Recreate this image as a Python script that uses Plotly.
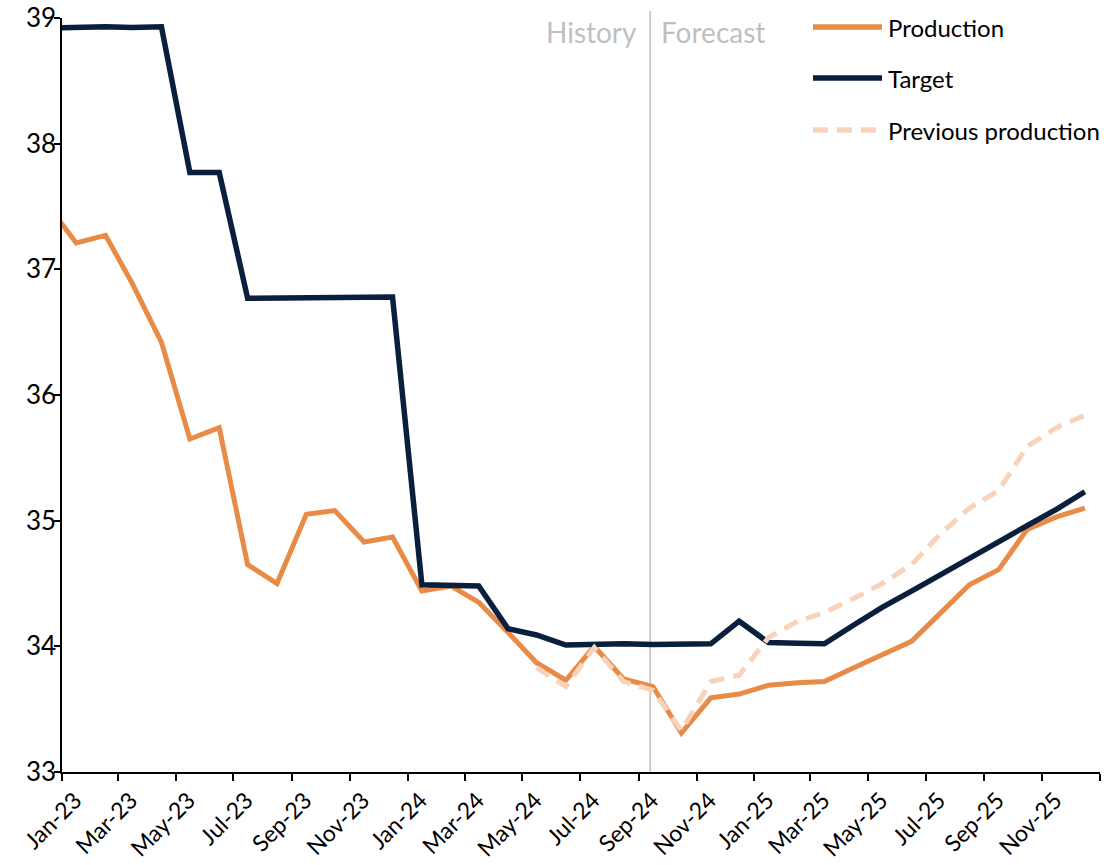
import plotly.graph_objects as go
import pandas as pd

# Monthly points (plotted mid-month), Dec-22 .. Dec-25
months = pd.date_range("2022-12-01", periods=37, freq="MS") + pd.Timedelta(days=15)

production = [37.52, 37.21, 37.27, 36.89, 36.42, 35.65, 35.74, 34.65, 34.50, 35.05, 35.08, 34.83, 34.87,
              34.44, 34.48, 34.35, 34.11, 33.87, 33.73, 34.00, 33.74, 33.68, 33.31, 33.59, 33.62,
              33.69, 33.71, 33.72, 33.83, 33.93, 34.04, 34.26, 34.49, 34.61, 34.93, 35.03, 35.10]

target = [38.92, 38.93, 38.93, 38.925, 38.93, 37.77, 37.77, 36.77, 36.77, 36.775, 36.78, 36.78, 36.78,
          34.49, 34.49, 34.48, 34.14, 34.09, 34.01, 34.02, 34.02, 34.015, 34.02, 34.02, 34.20,
          34.03, 34.025, 34.02, 34.17, 34.31, 34.44, 34.57, 34.70, 34.83, 34.96, 35.09, 35.23]

# Previous production forecast, May-24 .. Dec-25
prev_start = 17
previous_production = [33.83, 33.68, 33.99, 33.72, 33.65, 33.33, 33.72, 33.77,
                       34.07, 34.20, 34.27, 34.38, 34.50, 34.65, 34.89, 35.10, 35.24, 35.59, 35.74, 35.84]

tick_dates = pd.date_range("2023-01-01", "2026-01-01", freq="2MS")
tick_labels = [d.strftime("%b-%y") for d in tick_dates[:-1]] + [""]

split_date = "2024-09-13"

ORANGE = "#E88B47"
NAVY = "#0A1E3D"
PEACH = "#F8D3BA"
GREY = "#BFBFBF"
FONT = "Lato"

fig = go.Figure()
fig.add_trace(go.Scatter(x=months, y=production, mode="lines", name="Production",
                         line=dict(color=ORANGE, width=5), showlegend=False))
fig.add_trace(go.Scatter(x=months, y=target, mode="lines", name="Target",
                         line=dict(color=NAVY, width=5.5), showlegend=False))
fig.add_trace(go.Scatter(x=months[prev_start:], y=previous_production, mode="lines",
                         name="Previous production",
                         line=dict(color=PEACH, width=5, dash="15px,9px"), showlegend=False))

# Figure fills the window (body margin removed in post_script)
W, H = 1104, 865
L, R, T, B = 62, 4, 18, 865 - 772
pw, ph = W - L - R, H - T - B
def px(xp):
    return (xp - L) / pw
def py(yp):
    return 1 - (yp - T) / ph

# History / Forecast divider
fig.add_shape(type="line", x0=split_date, x1=split_date, xref="x", yref="paper",
              y0=0, y1=py(11), line=dict(color=GREY, width=1.5), layer="below")
fig.add_annotation(x=split_date, xref="x", y=py(32), yref="paper", text="History",
                   showarrow=False, xanchor="right", yanchor="middle", xshift=-11,
                   font=dict(family=FONT, size=28, color=GREY))
fig.add_annotation(x=split_date, xref="x", y=py(32), yref="paper", text="Forecast",
                   showarrow=False, xanchor="left", yanchor="middle", xshift=9,
                   font=dict(family=FONT, size=28, color=GREY))

# Custom legend (long line samples as in reference)
legend_items = [("Production", ORANGE, "solid", 27), ("Target", NAVY, "solid", 78),
                ("Previous production", PEACH, "15px,9px", 130)]
for name, col, dash, ypix in legend_items:
    fig.add_shape(type="line", xref="paper", yref="paper", x0=px(813), x1=px(882),
                  y0=py(ypix), y1=py(ypix), line=dict(color=col, width=5.5, dash=dash))
    fig.add_annotation(xref="paper", yref="paper", x=px(886), y=py(ypix), text=name,
                       showarrow=False, xanchor="left", yanchor="middle",
                       font=dict(family=FONT, size=24, color="black"))

fig.update_layout(
    width=W, height=H,
    margin=dict(l=L, r=R, t=T, b=B, autoexpand=False),
    plot_bgcolor="white", paper_bgcolor="white",
    font=dict(family=FONT, size=22, color="black"),
    showlegend=False,
)
fig.update_xaxes(type="date", range=["2023-01-01", "2026-01-01"],
                 tickmode="array", tickvals=tick_dates, ticktext=tick_labels,
                 tickangle=-45, ticks="outside", ticklen=7, tickwidth=1.5, tickcolor="black",
                 showline=True, linecolor="black", linewidth=1.5, showgrid=False, zeroline=False,
                 tickfont=dict(family=FONT, size=23, color="black"), automargin=False,
                 ticklabelshift=13, ticklabelstandoff=-3, ticklabeloverflow="allow")
fig.update_yaxes(range=[33, 39], dtick=1, ticks="outside", ticklen=6, tickwidth=1.5,
                 tickcolor="black", showline=True, linecolor="black", linewidth=1.5,
                 showgrid=False, zeroline=False, ticklabelstandoff=-7,
                 tickfont=dict(family=FONT, size=26, color="black"), automargin=False,
                 ticklabeloverflow="allow")

fig.write_html("out.html", config={"displayModeBar": False},
               post_script="document.body.style.margin='0px';document.body.style.overflow='hidden';")
